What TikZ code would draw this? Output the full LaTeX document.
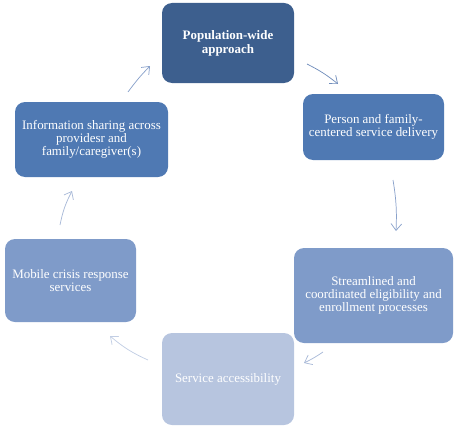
\documentclass[tikz,border=0pt]{standalone}
\usepackage{fontspec}
\setmainfont{Liberation Serif}
\usetikzlibrary{arrows.meta}
\definecolor{cPop}{HTML}{3D5F8E}
\definecolor{cMid}{HTML}{4F79B3}
\definecolor{cLight}{HTML}{7F9BC9}
\definecolor{cPale}{HTML}{B7C5DF}
\definecolor{aA}{HTML}{6F8CBB}
\definecolor{aB}{HTML}{8AA2CB}
\definecolor{aC}{HTML}{A9BAD8}
\definecolor{aD}{HTML}{C2CEE4}
\tikzset{
  box/.style={rounded corners=7.5pt, align=center, text=white, inner sep=1pt,
    font=\fontsize{9.7}{10}\selectfont},
  cyc/.style={-{Straight Barb[length=5pt,width=8pt]}, line width=0.55pt},
}
\begin{document}
\begin{tikzpicture}[x=0.75pt,y=-0.75pt]
\useasboundingbox (0,0) rectangle (463,435);
\node[box, fill=cPop, minimum width=99pt, minimum height=60pt, font=\fontsize{9.7}{10.5}\selectfont\bfseries]
  (pop) at (228,43) {Population-wide\\approach};
\node[box, fill=cMid, minimum width=105.75pt, minimum height=49.5pt]
  (person) at (373.5,127) {Person and family-\\centered service delivery};
\node[box, fill=cLight, minimum width=119.25pt, minimum height=71.25pt]
  (stream) at (373.5,295.5) {Streamlined and\\coordinated eligibility and\\enrollment processes};
\node[box, fill=cPale, minimum width=99pt, minimum height=69pt]
  (access) at (228,379) {Service accessibility};
\node[box, fill=cLight, minimum width=98.25pt, minimum height=62.25pt]
  (mobile) at (70.5,280.5) {Mobile crisis response\\services};
\node[box, fill=cMid, minimum width=114.75pt, minimum height=56.25pt]
  (info) at (91.5,139.5) {Information sharing across\\providesr and\\family/caregiver(s)};
% arrow end points
\coordinate (a1s) at (307,64);  \coordinate (a1e) at (338,84);
\coordinate (a2s) at (393,180); \coordinate (a2e) at (396,231);
\coordinate (a3s) at (323,352); \coordinate (a3e) at (304,363);
\coordinate (a4s) at (148,360); \coordinate (a4e) at (110,336);
\coordinate (a5s) at (60,225);  \coordinate (a5e) at (72,191);
\coordinate (a6s) at (128,92);  \coordinate (a6e) at (150,66);
\draw[cyc, aA] (a1s) to[bend left=6] (a1e);
\draw[cyc, aB] (a2s) to[bend left=6] (a2e);
\draw[cyc, aC] (a3s) to[bend left=4] (a3e);
\draw[cyc, aD] (a4s) to[bend left=8] (a4e);
\draw[cyc, aC] (a5s) to[bend left=8] (a5e);
\draw[cyc, aB] (a6s) to[bend left=4] (a6e);
\end{tikzpicture}
\end{document}
